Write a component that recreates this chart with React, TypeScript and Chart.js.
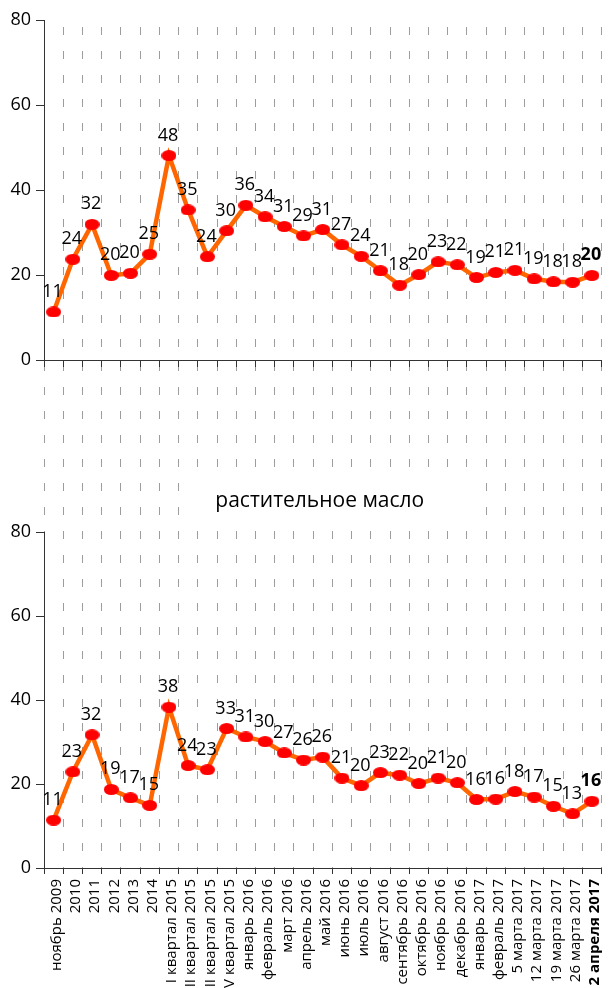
import React, { useEffect, useRef } from 'react';
import { Chart, registerables } from 'chart.js';

Chart.register(...registerables);

const FONT = "'Open Sans', 'DejaVu Sans', sans-serif";

const categories = [
  'ноябрь 2009', '2010', '2011', '2012', '2013', '2014',
  'I квартал 2015', 'II квартал 2015', 'III квартал 2015', 'IV квартал 2015',
  'январь 2016', 'февраль 2016', 'март 2016', 'апрель 2016', 'май 2016', 'июнь 2016',
  'июль 2016', 'август 2016', 'сентябрь 2016', 'октябрь 2016', 'ноябрь 2016', 'декабрь 2016',
  'январь 2017', 'февраль 2017', '5 марта 2017', '12 марта 2017', '19 марта 2017',
  '26 марта 2017', '2 апреля 2017',
];

const topValues = [
  11.3, 23.7, 31.9, 19.9, 20.4, 24.9, 48.1, 35.3, 24.3, 30.4, 36.4, 33.7, 31.4, 29.2, 30.7,
  27.1, 24.4, 21.0, 17.6, 20.1, 23.1, 22.4, 19.4, 20.6, 21.1, 19.1, 18.4, 18.3, 19.9,
];

const oilValues = [
  11.4, 22.9, 31.7, 18.7, 16.7, 14.9, 38.3, 24.4, 23.4, 33.2, 31.2, 30.1, 27.4, 25.7, 26.4,
  21.4, 19.6, 22.7, 22.1, 20.1, 21.4, 20.3, 16.3, 16.4, 18.2, 16.9, 14.7, 12.9, 15.9,
];

const yMin = 0;
const yMax = 80;
const yStep = 20;
const oilTitle = 'растительное масло';

const LINE_COLOR = '#FF6600';
const POINT_COLOR = '#FF0000';
const GRID_COLOR = '#9c9c9c';
const AXIS_COLOR = '#333333';

const W = 612;
const H = 1000;

function makeEllipse(): HTMLCanvasElement {
  const c = document.createElement('canvas');
  c.width = 15;
  c.height = 11;
  const g = c.getContext('2d')!;
  g.fillStyle = POINT_COLOR;
  g.beginPath();
  g.ellipse(7.5, 5.5, 7.5, 5.5, 0, 0, Math.PI * 2);
  g.fill();
  return c;
}

const valueLabels = {
  id: 'valueLabels',
  afterDatasetsDraw(chart: any) {
    const ctx = chart.ctx;
    chart.data.datasets.forEach((ds: any, di: number) => {
      const meta = chart.getDatasetMeta(di);
      const n = meta.data.length;
      meta.data.forEach((pt: any, i: number) => {
        const last = i === n - 1;
        ctx.save();
        ctx.font = `${last ? 'bold ' : ''}18px ${FONT}`;
        ctx.fillStyle = '#000';
        ctx.textAlign = 'center';
        ctx.textBaseline = 'alphabetic';
        ctx.fillText(String(Math.round(ds.data[i])), pt.x - 1, pt.y - 15);
        ctx.restore();
      });
    });
  },
};

const panelTitle = {
  id: 'panelTitle',
  afterDraw(chart: any) {
    const ctx = chart.ctx;
    const gap = chart.scales.yGap;
    const area = chart.chartArea;
    const cx = (area.left + area.right) / 2 - 3;
    const base = gap.bottom - 25;
    ctx.save();
    ctx.fillStyle = '#ffffff';
    ctx.fillRect(cx - 136, base - 32, 296, 42);
    ctx.fillStyle = '#000';
    ctx.font = `21px ${FONT}`;
    ctx.textAlign = 'center';
    ctx.textBaseline = 'alphabetic';
    ctx.fillText(oilTitle, cx, base);
    ctx.restore();
  },
};

function yAxis(weight: number) {
  return {
    type: 'linear',
    position: 'left',
    stack: 'panels',
    stackWeight: weight,
    min: yMin,
    max: yMax,
    afterFit: (s: any) => {
      s.width = 44;
    },
    ticks: {
      stepSize: yStep,
      color: '#000',
      padding: 5,
      font: { family: FONT, size: 18 },
    },
    grid: {
      drawOnChartArea: false,
      drawTicks: true,
      tickLength: 8,
      tickColor: AXIS_COLOR,
    },
    border: { display: true, color: AXIS_COLOR, width: 1 },
  };
}

export default function App() {
  const ref = useRef<HTMLCanvasElement>(null);

  useEffect(() => {
    if (!ref.current) return;
    const pointImg = makeEllipse();
    const lastIdx = categories.length - 1;
    const chart = new Chart(ref.current, {
      type: 'line',
      data: {
        labels: categories,
        datasets: [
          {
            data: topValues,
            yAxisID: 'yTop',
            xAxisID: 'x',
            borderColor: LINE_COLOR,
            borderWidth: 4.5,
            pointStyle: pointImg as any,
            pointRadius: 6,
            backgroundColor: POINT_COLOR,
            tension: 0,
          },
          {
            data: oilValues,
            yAxisID: 'yBot',
            xAxisID: 'x',
            borderColor: LINE_COLOR,
            borderWidth: 4.5,
            pointStyle: pointImg as any,
            pointRadius: 6,
            backgroundColor: POINT_COLOR,
            tension: 0,
          },
        ],
      },
      options: {
        responsive: false,
        animation: false,
        devicePixelRatio: 1,
        layout: { padding: { top: 20, left: 0, right: 0, bottom: 0 } },
        plugins: {
          legend: { display: false },
          tooltip: { enabled: false },
          title: { display: false },
        },
        scales: {
          x: {
            type: 'category',
            position: 'bottom',
            offset: true,
            afterFit: (s: any) => {
              s.height = H - 868;
              s.paddingLeft = 0;
              s.paddingRight = 0;
            },
            ticks: {
              autoSkip: false,
              minRotation: 90,
              maxRotation: 90,
              padding: 5,
              labelOffset: 3,
              color: '#000',
              font: (c: any) => ({
                family: FONT,
                size: 15,
                weight: c.index === lastIdx ? 'bold' : 'normal',
              }),
            },
            grid: {
              offset: true,
              color: GRID_COLOR,
              lineWidth: 1,
              drawTicks: true,
              tickLength: 6,
              tickColor: AXIS_COLOR,
            },
            border: { display: true, color: AXIS_COLOR, width: 1, dash: [8, 16], dashOffset: 17 },
          },
          x2: {
            type: 'category',
            axis: 'x',
            position: { yTop: 0 },
            offset: true,
            ticks: { display: false, autoSkip: false },
            grid: {
              offset: true,
              drawOnChartArea: false,
              drawTicks: true,
              tickLength: 6,
              tickColor: AXIS_COLOR,
            },
            border: { display: true, color: AXIS_COLOR, width: 1 },
          },
          yBot: yAxis(336),
          yGap: {
            type: 'linear',
            position: 'left',
            stack: 'panels',
            stackWeight: 172,
            min: 0,
            max: 1,
            display: false,
          },
          yTop: yAxis(340),
        } as any,
      },
      plugins: [valueLabels, panelTitle],
    } as any);
    return () => chart.destroy();
  }, []);

  return (
    <div
      style={{
        position: 'absolute',
        left: 0,
        top: 0,
        width: 612,
        height: 988,
        overflow: 'hidden',
        background: '#fff',
      }}
    >
      <canvas ref={ref} width={W} height={H} style={{ display: 'block', width: W, height: H }} />
    </div>
  );
}
